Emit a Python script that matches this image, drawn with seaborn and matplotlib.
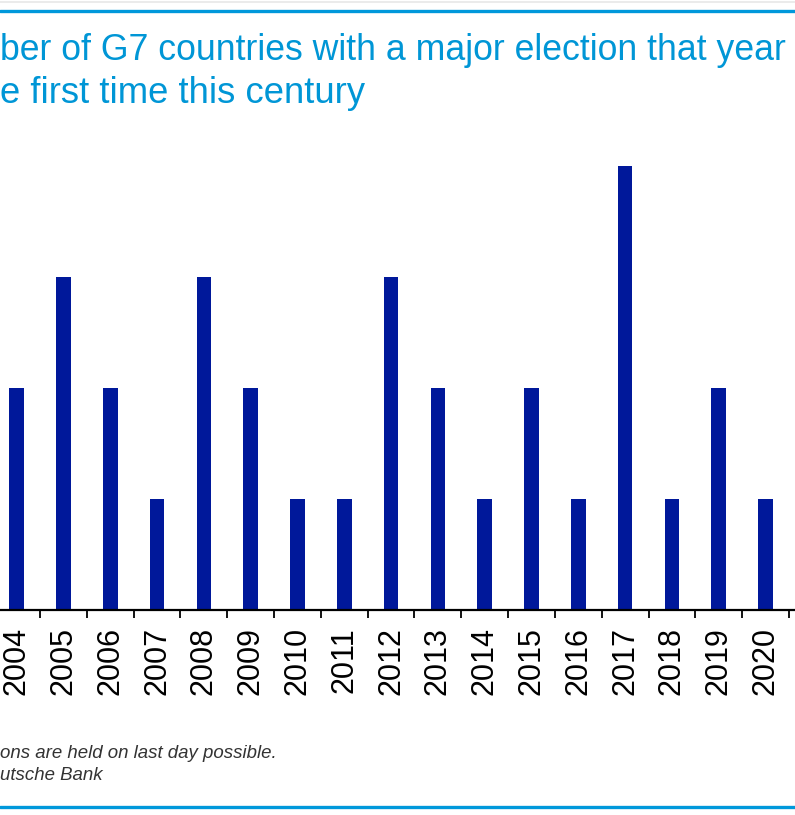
import matplotlib
matplotlib.use("Agg")
import matplotlib.pyplot as plt
import seaborn as sns
import pandas as pd
from matplotlib.lines import Line2D

years = ["2004", "2005", "2006", "2007", "2008", "2009", "2010", "2011", "2012",
         "2013", "2014", "2015", "2016", "2017", "2018", "2019", "2020"]
elections = [2, 3, 2, 1, 3, 2, 1, 1, 3, 2, 1, 2, 1, 4, 1, 2, 1]
title_lines = ["ber of G7 countries with a major election that year",
               "e first time this century"]
footer_lines = ["ons are held on last day possible.", "utsche Bank"]

df = pd.DataFrame({"year": years, "n": elections})

sns.set_theme(style="white")
plt.rcParams["font.family"] = ["Liberation Sans", "DejaVu Sans"]

W, H = 795, 815
fig = plt.figure(figsize=(W / 100, H / 100), dpi=100)
fig.patch.set_facecolor("white")

base_px = 610
unit_px = 111
ymax = 4.5
ax = fig.add_axes([0, (H - base_px) / H, 1, ymax * unit_px / H])

sns.barplot(data=df, x="year", y="n", color="#00189A", width=0.31,
            saturation=1, ax=ax, edgecolor="none")

step = 46.8
left = -16.7 / step
right = left + W / step
ax.set_xlim(left, right)
ax.set_ylim(0, ymax)
ax.set_xlabel("")
ax.set_ylabel("")
ax.set_yticks([])
for s in ["top", "left", "right"]:
    ax.spines[s].set_visible(False)
ax.spines["bottom"].set_color("black")
ax.spines["bottom"].set_linewidth(1.6)

ax.set_xticks(range(len(years)))
ax.set_xticklabels(years, rotation=90, fontsize=22)
ax.tick_params(axis="x", which="major", length=0, pad=12.5, colors="black")
ax.set_xticks([i + 0.5 for i in range(len(years))], minor=True)
ax.tick_params(axis="x", which="minor", length=6, width=1.3, color="black",
               direction="out", bottom=True)
ax.patch.set_alpha(0)

# header / footer rules
fig.add_artist(Line2D([0, 1], [1 - 1.5 / H, 1 - 1.5 / H], color="#e8e8e8", lw=1.2))
fig.add_artist(Line2D([0, 1], [1 - 10.5 / H, 1 - 10.5 / H], color="#0098DB", lw=2.4))
fig.add_artist(Line2D([0, 1], [1 - 807 / H, 1 - 807 / H], color="#0098DB", lw=2.4))

fig.text(0.0, 1 - 60 / H, title_lines[0], color="#0096D6", fontsize=25.7,
         ha="left", va="baseline")
fig.text(0.0, 1 - 103 / H, title_lines[1], color="#0096D6", fontsize=26.3,
         ha="left", va="baseline")

fig.text(0.0, 1 - 758 / H, footer_lines[0], color="#333333", fontsize=13.4,
         style="italic", ha="left", va="baseline")
fig.text(0.0, 1 - 780 / H, footer_lines[1], color="#333333", fontsize=13.4,
         style="italic", ha="left", va="baseline")

fig.savefig("out.png", dpi=100)
